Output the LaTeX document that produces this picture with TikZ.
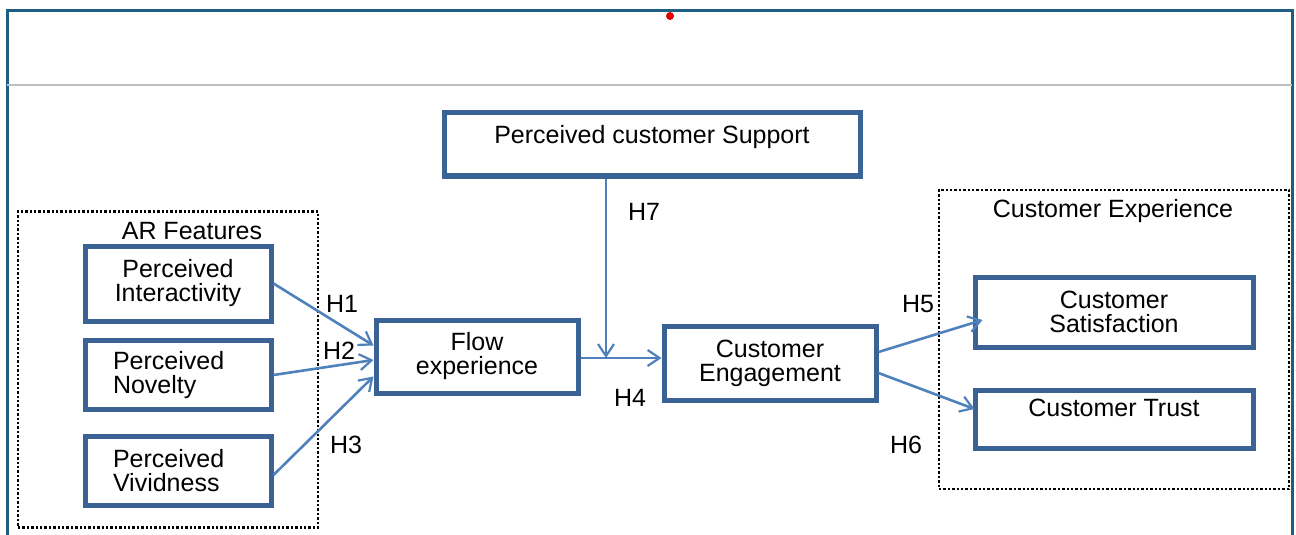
\documentclass[tikz,border=0pt]{standalone}
\usepackage{fontspec}
\setmainfont{Liberation Sans}
\usetikzlibrary{arrows.meta}

\definecolor{boxblue}{HTML}{3B6294}
\definecolor{arrowblue}{HTML}{4F81BD}
\definecolor{framecol}{HTML}{1D5E82}

\tikzset{
    construct/.style={draw=boxblue, line width=2.5pt, fill=white, align=center,
                      font=\fontsize{12.5}{12}\selectfont},
    group/.style={draw=black, line width=1.3pt, dash pattern=on 1.2pt off 1pt},
    hyp/.style={font=\fontsize{12.5}{12}\selectfont},
    link/.style={draw=arrowblue, line width=1.3pt,
                 -{Straight Barb[length=6pt,width=8pt,line width=1.1pt]}},
}

\begin{document}
\begin{tikzpicture}[x=0.5pt,y=-0.5pt] % one unit = one pixel of the picture
    \useasboundingbox (0,0) rectangle (1296,535);

    % frame of the slide
    \draw [framecol, line width=1.5pt] (7,535) -- (7,11) -- (1292,11) -- (1292,535);
    \draw [gray!50, line width=0.6pt] (7,85) -- (1292,85);
    \fill [red!90!black] (670,16) circle (4);

    % dotted groups
    \node [group, minimum width=150pt, minimum height=158pt] (arbox) at (168,369.5) {};
    \node [group, minimum width=175pt, minimum height=149.5pt] (cexbox) at (1114,339.5) {};
    \node [hyp] (arlabel) at (192,231) {AR Features};
    \node [hyp] (cexlabel) at (1113,211) {Customer Experience};

    % constructs
    \node [construct, minimum width=208pt, minimum height=31.5pt, text depth=10pt] (sup) at (652,144.5) {Perceived customer Support};
    \node [construct, minimum width=93pt, minimum height=37.5pt] (int) at (178,283.5) {Perceived\\Interactivity};
    \node [construct, minimum width=93pt, minimum height=34.5pt, align=left, text width=65pt] (nov) at (178,375) {Perceived\\Novelty};
    \node [construct, minimum width=93pt, minimum height=34.5pt, align=left, text width=65pt] (viv) at (178,471) {Perceived\\Vividness};
    \node [construct, minimum width=101pt, minimum height=36.5pt] (flow) at (477,356.5) {Flow\\experience};
    \node [construct, minimum width=106pt, minimum height=37pt] (eng) at (770,363) {Customer\\Engagement};
    \node [construct, minimum width=139pt, minimum height=35pt] (sat) at (1114,312) {Customer\\Satisfaction};
    \node [construct, minimum width=139pt, minimum height=29pt, text depth=11pt] (trust) at (1114,419) {Customer Trust};

    % paths
    \coordinate (join) at (606,358); % where support meets the flow path
    \draw [link] (int.east) -- ([yshift=5.5pt]flow.west);
    \draw [link] (nov.east) -- ([yshift=-1.75pt]flow.west);
    \draw [link] ([yshift=-2pt]viv.east) -- ([yshift=-10pt]flow.west);
    \draw [link] (sup.south -| join) -- (join);
    \draw [link] (flow.east |- join) -- (eng.west |- join);
    \draw [link] ([yshift=5.5pt]eng.east) -- ([xshift=5pt,yshift=-4pt]sat.west);
    \draw [link] ([yshift=-5pt]eng.east) -- ([xshift=1pt,yshift=5pt]trust.west);

    % hypotheses
    \node [hyp] (h1) at (342,304) {H1};
    \node [hyp] (h2) at (339,351) {H2};
    \node [hyp] (h3) at (346,445) {H3};
    \node [hyp] (h4) at (630,398) {H4};
    \node [hyp] (h5) at (918,304) {H5};
    \node [hyp] (h6) at (906,445) {H6};
    \node [hyp] (h7) at (644,212) {H7};
\end{tikzpicture}
\end{document}
